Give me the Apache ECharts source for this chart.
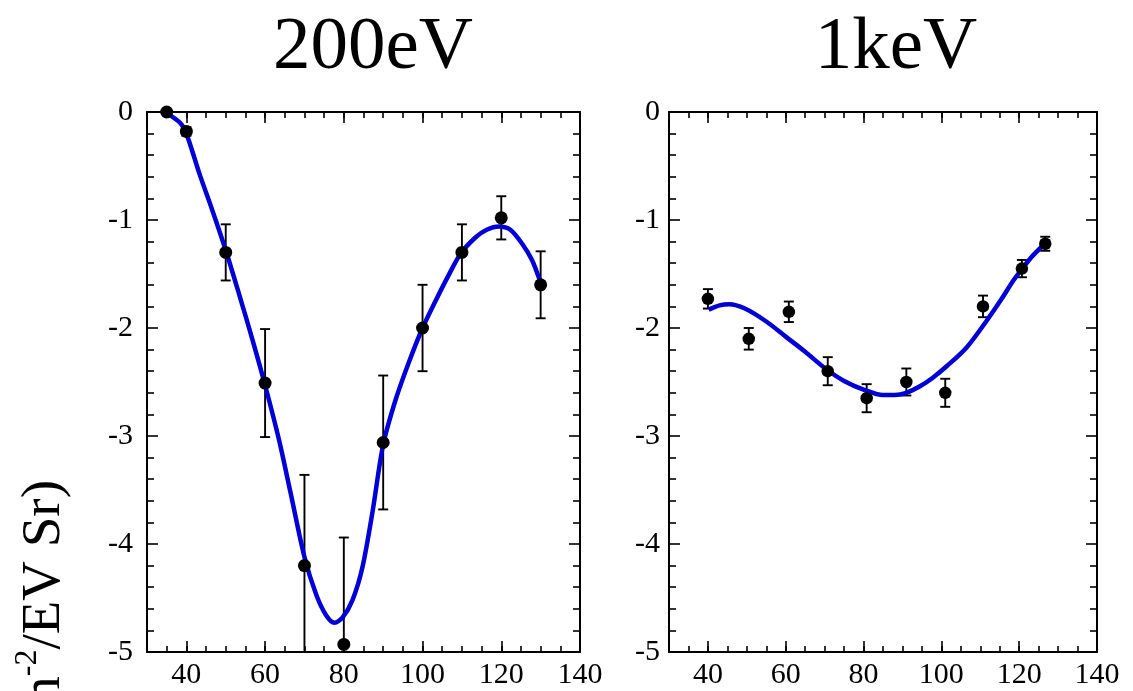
<!DOCTYPE html>
<html>
<head>
<meta charset="utf-8">
<script src="https://cdn.jsdelivr.net/npm/echarts@6/dist/echarts.min.js"></script>
<style>
  html, body { margin: 0; padding: 0; background: #fff; }
  #chart { width: 1133px; height: 691px; }
</style>
</head>
<body>
<div id="chart"></div>
<script>
// Scattering angle axis (degrees): labelled / major tick positions
const xLabelValues = [40, 60, 80, 100, 120, 140];

// 200 eV measurements
const angles200 = [35, 40, 50, 60, 70, 80, 90, 100, 110, 120, 130];
const values200 = [0, -0.18, -1.30, -2.51, -4.20, -4.93, -3.06, -2.00, -1.30, -0.98, -1.60];
const errors200 = [0.02, 0.04, 0.26, 0.50, 0.84, 0.99, 0.62, 0.40, 0.26, 0.20, 0.31];

// 200 eV fitted curve
const fitAngles200 = [35, 38.4, 40, 43.4, 46.5, 50, 53.5, 56.8, 60, 63.5, 66.5, 70, 73, 75.5, 77.6, 79.7, 82.2, 84.7, 87.3, 90, 93.2, 96.6, 100, 103.3, 106.5, 109.7, 113.5, 116.3, 119.4, 122.3, 125.3, 127.8, 129.9];
const fitValues200 = [-0.01, -0.10, -0.20, -0.58, -0.90, -1.28, -1.70, -2.11, -2.53, -3.03, -3.53, -4.12, -4.47, -4.66, -4.73, -4.68, -4.52, -4.22, -3.70, -3.08, -2.66, -2.31, -2.00, -1.75, -1.52, -1.31, -1.16, -1.09, -1.06, -1.09, -1.22, -1.37, -1.57];

// 1 keV measurements
const angles1k = [40, 50.5, 60.8, 70.8, 80.8, 91, 101, 110.7, 120.7, 126.7];
const values1k = [-1.73, -2.10, -1.85, -2.40, -2.65, -2.50, -2.60, -1.80, -1.45, -1.22];
const errors1k = [0.09, 0.10, 0.095, 0.13, 0.13, 0.125, 0.13, 0.10, 0.08, 0.065];

// 1 keV fitted curve
const fitAngles1k = [40.2, 43, 45.5, 49.5, 55, 60, 65, 70, 75, 80, 85, 88, 91, 94.5, 97.8, 101.5, 106.5, 111.5, 115.5, 118.5, 121, 123.5, 126.6];
const fitValues1k = [-1.83, -1.79, -1.78, -1.82, -1.94, -2.08, -2.22, -2.37, -2.49, -2.57, -2.62, -2.62, -2.60, -2.54, -2.46, -2.35, -2.18, -1.94, -1.73, -1.56, -1.44, -1.33, -1.22];

const FONT = 'Liberation Serif';
const BLACK = '#000';
const BLUE = '#0000d6';

const zip2 = (a, b) => a.map((v, i) => [v, b[i]]);
const zip3 = (a, b, c) => a.map((v, i) => [v, b[i], c[i]]);

const grids = [
  { left: 147, top: 112, width: 433, height: 540, outerBoundsMode: 'none' },
  { left: 669, top: 112, width: 428, height: 540, outerBoundsMode: 'none' }
];

function xAxesFor(g) {
  const base = { gridIndex: g, type: 'value', min: 30, max: 140, splitLine: { show: false } };
  const line = { show: true, onZero: false, lineStyle: { color: BLACK, width: 2 } };
  const noLine = { show: false, onZero: false };
  const tickStyle = { color: BLACK, width: 1.6 };
  return [
    // bottom: frame, minor ticks every 5, labels every 20
    Object.assign({}, base, {
      position: 'bottom', interval: 5, axisLine: line,
      axisTick: { show: true, inside: true, length: 6, lineStyle: tickStyle },
      axisLabel: { show: true, customValues: xLabelValues, margin: 8, color: BLACK, fontFamily: FONT, fontSize: 30 }
    }),
    // bottom: major ticks
    Object.assign({}, base, {
      position: 'bottom', axisLine: noLine,
      axisTick: { show: true, inside: true, length: 11, customValues: xLabelValues, lineStyle: tickStyle },
      axisLabel: { show: false }
    }),
    // top: frame and minor ticks
    Object.assign({}, base, {
      position: 'top', interval: 5, axisLine: line,
      axisTick: { show: true, inside: true, length: 6, lineStyle: tickStyle },
      axisLabel: { show: false }
    }),
    // top: major ticks
    Object.assign({}, base, {
      position: 'top', axisLine: noLine,
      axisTick: { show: true, inside: true, length: 11, customValues: xLabelValues, lineStyle: tickStyle },
      axisLabel: { show: false }
    })
  ];
}

function yAxesFor(g, labelMargin) {
  const base = {
    gridIndex: g, type: 'value', min: -5, max: 0, interval: 1, splitLine: { show: false },
    axisLine: { show: true, onZero: false, lineStyle: { color: BLACK, width: 2 } },
    axisTick: { show: true, inside: true, length: 11, lineStyle: { color: BLACK, width: 1.6 } },
    minorTick: { show: true, splitNumber: 5, length: 7, lineStyle: { color: BLACK, width: 1.6 } },
    minorSplitLine: { show: false }
  };
  return [
    Object.assign({}, base, {
      position: 'left',
      axisLabel: { show: true, margin: labelMargin, color: BLACK, fontFamily: FONT, fontSize: 30 }
    }),
    Object.assign({}, base, { position: 'right', axisLabel: { show: false } })
  ];
}

// vertical error bar with small caps
function errorBar(params, api) {
  const x = api.value(0), y = api.value(1), e = api.value(2);
  const hi = api.coord([x, y + e]);
  const lo = api.coord([x, y - e]);
  const hw = 5;
  const st = { stroke: BLACK, lineWidth: 1.9 };
  return {
    type: 'group',
    children: [
      { type: 'line', shape: { x1: hi[0], y1: hi[1], x2: lo[0], y2: lo[1] }, style: st },
      { type: 'line', shape: { x1: hi[0] - hw, y1: hi[1], x2: hi[0] + hw, y2: hi[1] }, style: st },
      { type: 'line', shape: { x1: lo[0] - hw, y1: lo[1], x2: lo[0] + hw, y2: lo[1] }, style: st }
    ]
  };
}

function panelSeries(xi, yi, angles, values, errors, fitX, fitY, dot) {
  return [
    {
      type: 'custom', xAxisIndex: xi, yAxisIndex: yi, clip: true,
      renderItem: errorBar, encode: { x: 0, y: 1 },
      data: zip3(angles, values, errors), z: 2
    },
    {
      type: 'line', xAxisIndex: xi, yAxisIndex: yi, smooth: 0.3,
      showSymbol: false, symbol: 'none', clip: true,
      lineStyle: { color: BLUE, width: 4.5 },
      data: zip2(fitX, fitY), z: 3
    },
    {
      type: 'scatter', xAxisIndex: xi, yAxisIndex: yi, clip: false,
      symbol: 'circle', symbolSize: dot,
      itemStyle: { color: BLACK, opacity: 1 },
      data: zip2(angles, values), z: 4
    }
  ];
}

const chart = echarts.init(document.getElementById('chart'), null, { renderer: 'canvas' });

chart.setOption({
  backgroundColor: '#fff',
  animation: false,
  title: [
    { text: '200eV', left: 368, top: 6, textAlign: 'center',
      textStyle: { fontFamily: FONT, fontSize: 75, fontWeight: 'normal', color: BLACK } },
    { text: '1keV', left: 891, top: 6, textAlign: 'center',
      textStyle: { fontFamily: FONT, fontSize: 75, fontWeight: 'normal', color: BLACK } }
  ],
  grid: grids,
  xAxis: xAxesFor(0).concat(xAxesFor(1)),
  yAxis: yAxesFor(0, 14).concat(yAxesFor(1, 9)),
  series: panelSeries(0, 0, angles200, values200, errors200, fitAngles200, fitValues200, 13)
    .concat(panelSeries(4, 2, angles1k, values1k, errors1k, fitAngles1k, fitValues1k, 12.5)),
  graphic: [
    {
      type: 'text', x: 42, y: 480, rotation: Math.PI / 2,
      style: {
        text: '{m|(cm}{s|-2}{m|/EV Sr)}',
        align: 'right', verticalAlign: 'middle',
        rich: {
          m: { fontFamily: FONT, fontSize: 55, fill: BLACK, verticalAlign: 'bottom', lineHeight: 60 },
          s: { fontFamily: FONT, fontSize: 32, fill: BLACK, verticalAlign: 'top', lineHeight: 60, padding: [0, 0, 22, 0] }
        }
      }
    }
  ]
});
</script>
</body>
</html>
